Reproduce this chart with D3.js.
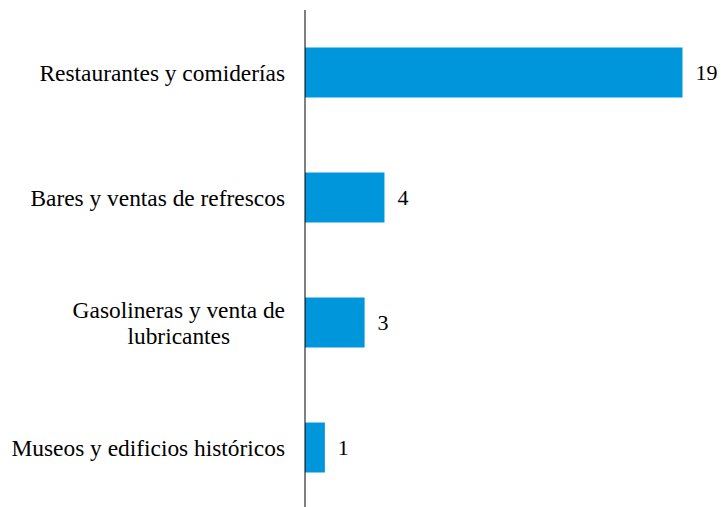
<!DOCTYPE html>
<html><head><meta charset="utf-8">
<script src="https://cdn.jsdelivr.net/npm/d3@7"></script>
<style>body{margin:0;background:#fff;} svg{display:block;}</style>
</head><body>
<svg id="c" width="721" height="507"></svg>
<script>
const categories = [
  ["Restaurantes y comiderías"],
  ["Bares y ventas de refrescos"],
  ["Gasolineras y venta de", "lubricantes"],
  ["Museos y edificios históricos"]
];
const values = [19, 4, 3, 1];

const svg = d3.select("#c");
const font = "'Liberation Serif','Times New Roman',serif";
const x = d3.scaleLinear().domain([0, 19]).range([305, 682.5]);
const y = d3.scaleBand().domain(d3.range(categories.length)).range([10, 510]).paddingInner(0.6).paddingOuter(0.3);

svg.selectAll("rect.bar").data(values).join("rect")
  .attr("class", "bar")
  .attr("x", x(0))
  .attr("y", (d, i) => y(i))
  .attr("width", d => x(d) - x(0))
  .attr("height", y.bandwidth())
  .attr("fill", "#0096DB");

svg.selectAll("text.val").data(values).join("text")
  .attr("class", "val")
  .attr("x", d => x(d) + 13)
  .attr("y", (d, i) => y(i) + y.bandwidth() / 2)
  .attr("dy", "0.35em")
  .attr("font-family", font)
  .attr("font-size", 22)
  .attr("fill", "#000")
  .text(d => d);

const lh = 26;
categories.forEach((lines, i) => {
  const cy = y(i) + y.bandwidth() / 2;
  const g = svg.append("g");
  const texts = lines.map((ln, j) => g.append("text")
    .attr("y", cy + (j - (lines.length - 1) / 2) * lh)
    .attr("dy", "0.35em")
    .attr("font-family", font)
    .attr("font-size", 23.4)
    .attr("fill", "#000")
    .text(ln));
  const widths = texts.map(t => t.node().getComputedTextLength());
  const maxW = d3.max(widths);
  const right = 285;
  texts.forEach((t, j) => {
    t.attr("x", right - maxW / 2).attr("text-anchor", "middle");
  });
});

svg.append("line")
  .attr("x1", x(0)).attr("x2", x(0))
  .attr("y1", 10).attr("y2", 507)
  .attr("stroke", "#000").attr("stroke-width", 1);
</script>
</body></html>
